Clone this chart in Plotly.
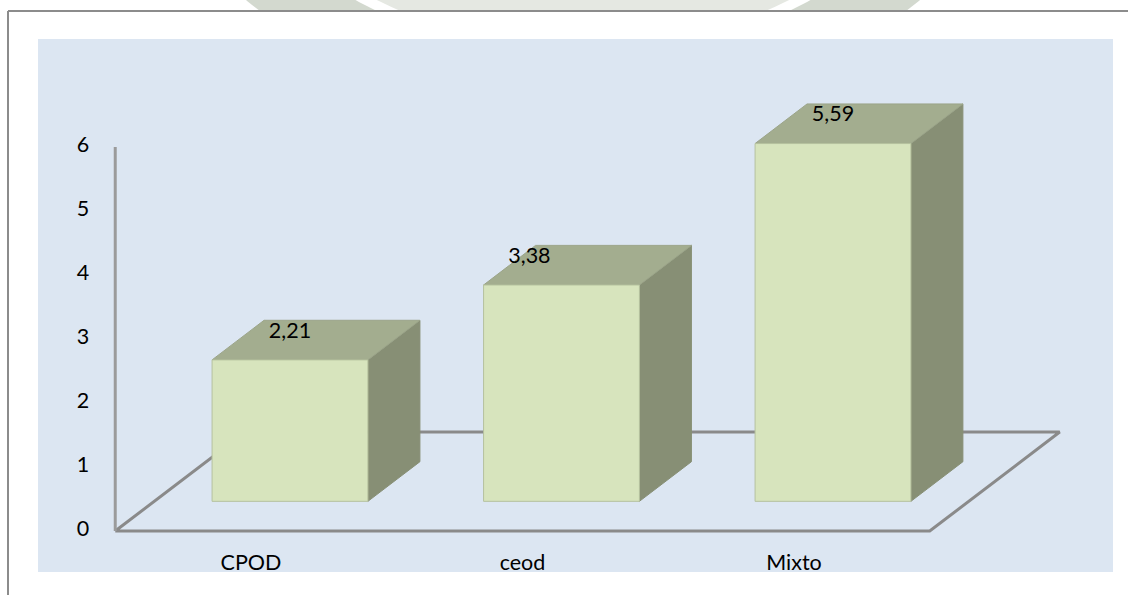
import plotly.graph_objects as go

# ---- data ---------------------------------------------------------------
categories = ["CPOD", "ceod", "Mixto"]
values = [2.21, 3.38, 5.59]
value_labels = ["2,21", "3,38", "5,59"]
y_ticks = [0, 1, 2, 3, 4, 5, 6]

# ---- page geometry (pixels) ---------------------------------------------
W, H = 1128, 595
PL, PR, PT, PB = 38, 1113, 39, 572          # plot area

# ---- 3D projection in axis units ----------------------------------------
X_RANGE = [-0.7845, 3.175]
Y_RANGE = [-0.64, 7.6875]
DEPTH_DX = 0.4788      # horizontal shift from front edge to back edge of the floor
DEPTH_DY = 1.547       # vertical shift from front edge to back edge of the floor
BAR_HALF = 0.287       # half width of a bar (category units)
BAR_D0, BAR_D1 = 0.3, 0.7   # depth band occupied by the bars
FLOOR_X = [-0.5, len(categories) - 0.5]
LABEL_NUDGE = [0.0, -0.118, 0.0]   # horizontal nudge of each value label

FRONT = "#d7e4bd"
TOP = "#a3ad8f"
SIDE = "#878f75"
AXIS_GREY = "#8a8a8a"
FONT = "Lato"
FONT_SIZE = 21.5


def px(x):
    return x / W


def py(y):
    return 1 - y / H


def shifted(x, y, d):
    return x + d * DEPTH_DX, y + d * DEPTH_DY


fig = go.Figure()

# floor outline (drawn first so the bars cover its back edge)
fx0, fx1 = FLOOR_X
bx0, by = shifted(fx0, 0, 1)
bx1, _ = shifted(fx1, 0, 1)
fig.add_trace(go.Scatter(
    x=[fx0, fx1, bx1, bx0, fx0], y=[0, 0, by, by, 0],
    mode="lines", line=dict(color=AXIS_GREY, width=3),
    hoverinfo="skip", showlegend=False))

# vertical value axis line
fig.add_trace(go.Scatter(
    x=[fx0, fx0], y=[0, max(y_ticks)],
    mode="lines", line=dict(color="#9b9b9b", width=3),
    hoverinfo="skip", showlegend=False))


def face(xs, ys, fill, edge):
    fig.add_trace(go.Scatter(
        x=xs + [xs[0]], y=ys + [ys[0]], mode="lines", fill="toself",
        fillcolor=fill, line=dict(color=edge, width=1),
        hoverinfo="skip", showlegend=False))


for i, v in enumerate(values):
    xl, xr = i - BAR_HALF, i + BAR_HALF
    # front face corners (depth BAR_D0) and back corners (depth BAR_D1)
    fl, fb = shifted(xl, 0, BAR_D0)
    fr, _ = shifted(xr, 0, BAR_D0)
    ft = fb + v
    bl, bb = shifted(xl, 0, BAR_D1)
    br, _ = shifted(xr, 0, BAR_D1)
    bt = bb + v
    # right side
    face([fr, br, br, fr], [fb, bb, bt, ft], SIDE, SIDE)
    # top
    face([fl, fr, br, bl], [ft, ft, bt, bt], TOP, "#9ba489")
    # front
    face([fl, fr, fr, fl], [fb, fb, ft, ft], FRONT, "#b5c19e")

# value labels on the bar tops
fig.add_trace(go.Scatter(
    x=[i + BAR_D0 * DEPTH_DX + LABEL_NUDGE[i] for i in range(len(values))],
    y=[v + 0.58 * DEPTH_DY for v in values],
    text=value_labels, mode="text", textposition="middle center",
    textfont=dict(family=FONT, size=FONT_SIZE, color="black"),
    hoverinfo="skip", showlegend=False, cliponaxis=False))

# value axis tick labels
fig.add_trace(go.Scatter(
    x=[-0.619] * len(y_ticks), y=y_ticks, text=[str(t) for t in y_ticks],
    mode="text", textposition="middle center",
    textfont=dict(family=FONT, size=FONT_SIZE, color="black"),
    hoverinfo="skip", showlegend=False, cliponaxis=False))

# category labels
fig.add_trace(go.Scatter(
    x=list(range(len(categories))), y=[-0.531] * len(categories), text=categories,
    mode="text", textposition="middle center",
    textfont=dict(family=FONT, size=FONT_SIZE, color="black"),
    hoverinfo="skip", showlegend=False, cliponaxis=False))

# ---- background: seal strip above the frame, frame, plot area -------------
cx, cy = 583, -409
shapes = []
for r, col in [(530, "#d3d9cf"), (468, "#ffffff"), (458, "#e5e8e2")]:
    shapes.append(dict(type="circle", xref="paper", yref="paper",
                       x0=px(cx - r), x1=px(cx + r), y0=py(cy + r), y1=py(cy - r),
                       fillcolor=col, line=dict(width=0), layer="below"))
shapes.append(dict(type="rect", xref="paper", yref="paper",
                   x0=0, x1=1, y0=0, y1=py(11),
                   fillcolor="white", line=dict(width=0), layer="below"))
shapes.append(dict(type="line", xref="paper", yref="paper",
                   x0=px(8), x1=1.01, y0=py(11), y1=py(11),
                   line=dict(color="#8c8c8c", width=2), layer="below"))
shapes.append(dict(type="line", xref="paper", yref="paper",
                   x0=px(8), x1=px(8), y0=py(11), y1=-0.01,
                   line=dict(color="#8c8c8c", width=2), layer="below"))
shapes.append(dict(type="rect", xref="paper", yref="paper",
                   x0=px(PL), x1=px(PR), y0=py(PB), y1=py(PT),
                   fillcolor="#dce6f2", line=dict(width=0), layer="below"))

fig.update_layout(
    width=W, height=H,
    margin=dict(l=0, r=0, t=0, b=0),
    paper_bgcolor="white", plot_bgcolor="rgba(0,0,0,0)",
    shapes=shapes,
    xaxis=dict(domain=[px(PL), px(PR)], range=X_RANGE, visible=False, fixedrange=True),
    yaxis=dict(domain=[py(PB), py(PT)], range=Y_RANGE, visible=False, fixedrange=True),
    showlegend=False,
)

fig.write_html("out.html")
